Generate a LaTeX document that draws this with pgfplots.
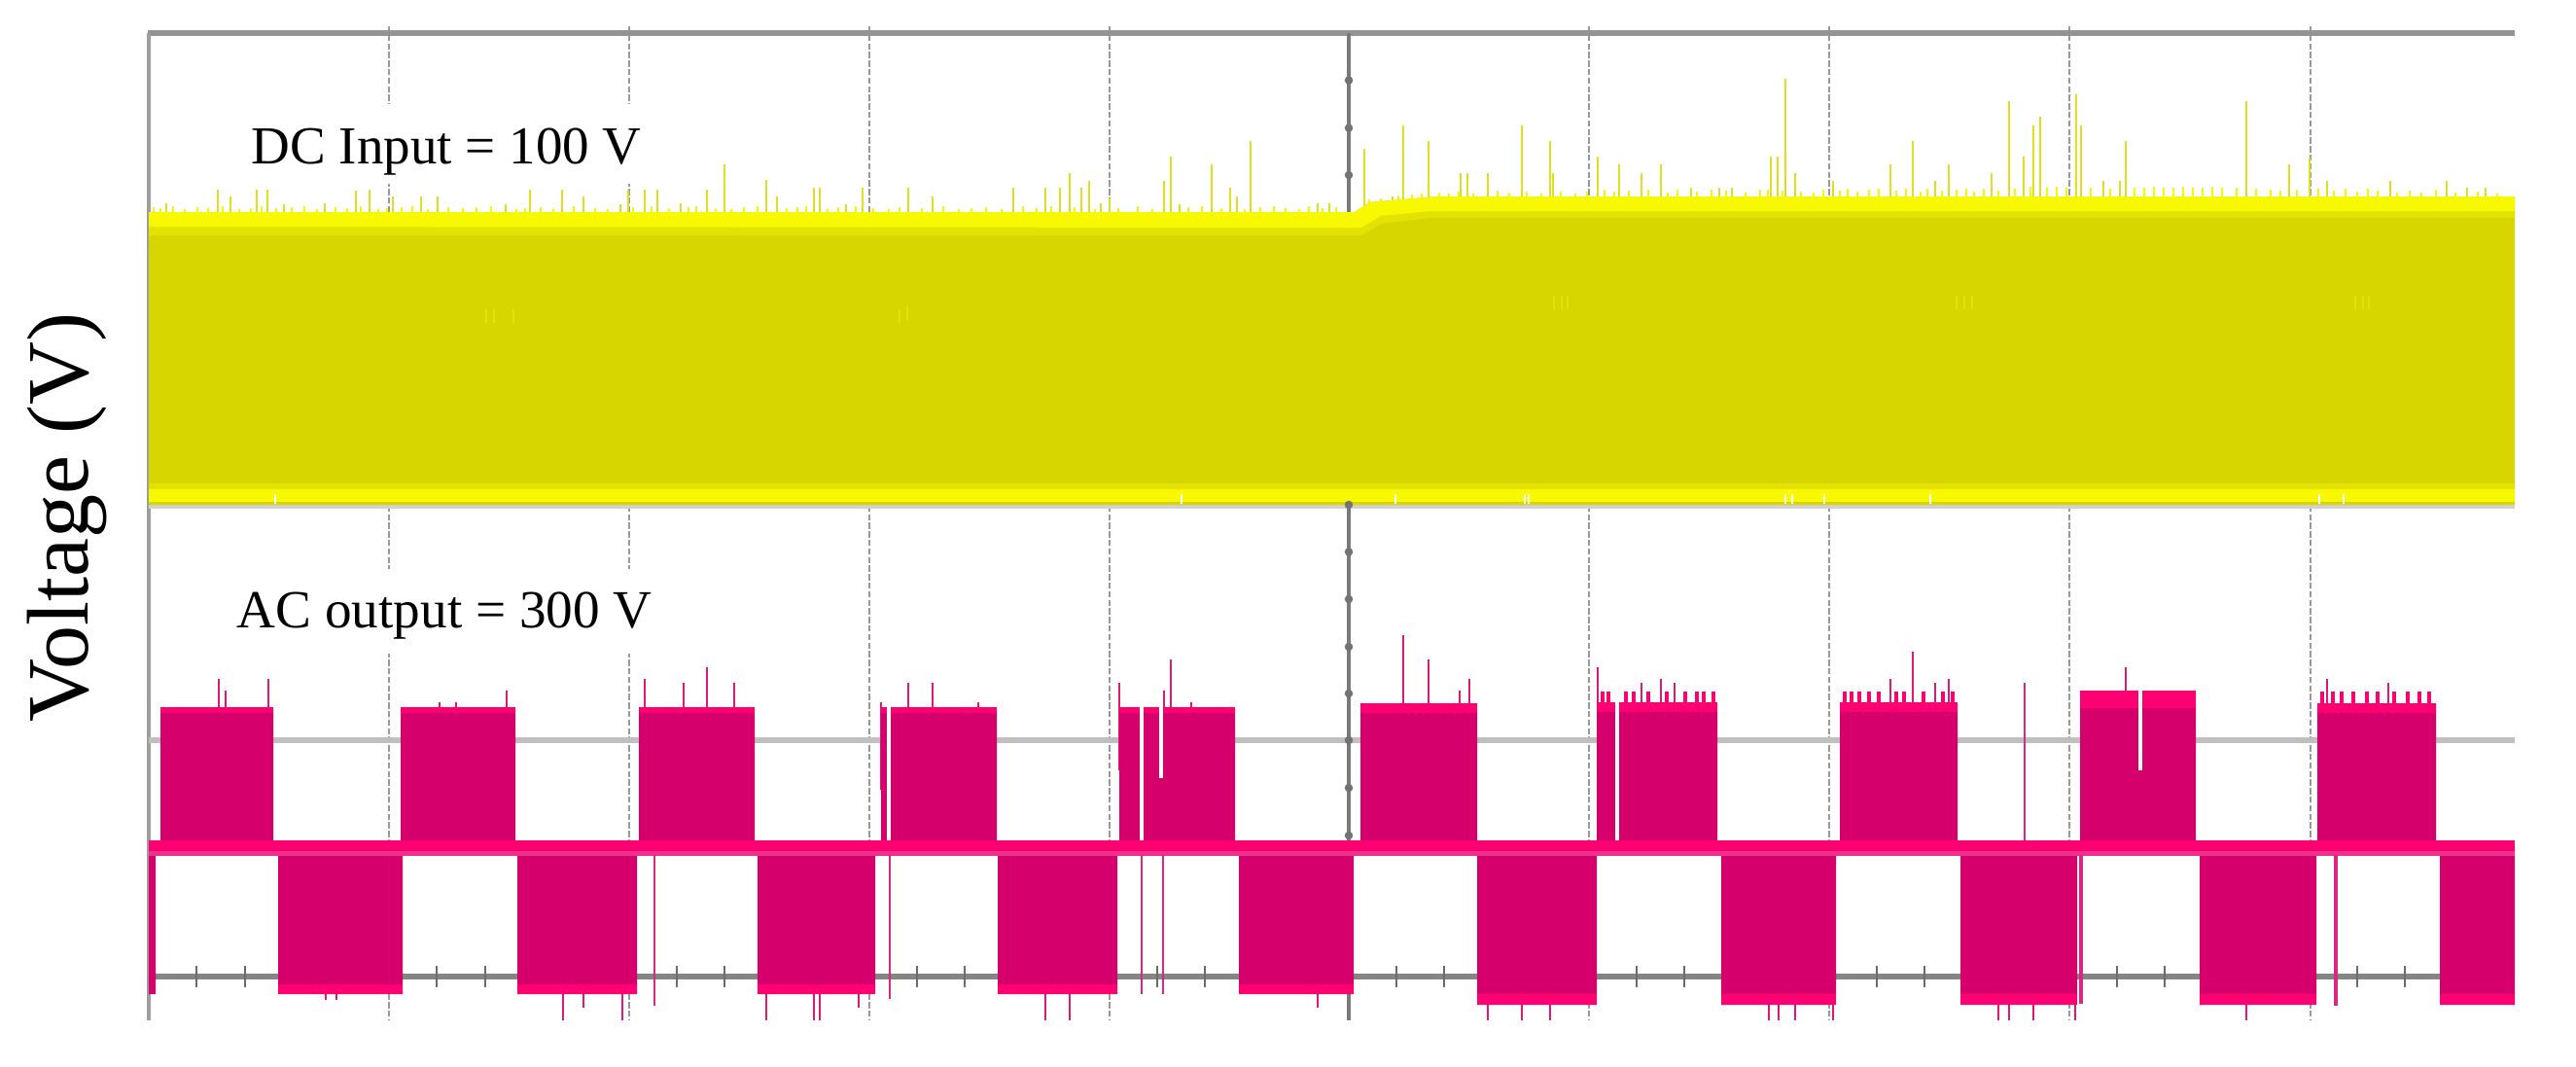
\documentclass[border=0pt]{standalone}
\usepackage{fontspec}
\setmainfont{Liberation Serif}
\usepackage{pgfplots}
\pgfplotsset{compat=1.18}
\definecolor{yelmain}{HTML}{D8D600}
\definecolor{yelbright}{HTML}{F8F800}
\definecolor{yelmid}{HTML}{E4E200}
\definecolor{yelspike}{HTML}{E2DE20}
\definecolor{pinkmain}{HTML}{D6006C}
\definecolor{pinkbright}{HTML}{FF0072}
\definecolor{pinklight}{HTML}{F0308E}
\pgfplotsset{
  ysp/.style={draw=none,mark=none,forget plot,error bars/.cd,y dir=plus,y fixed=#1,error mark=none},
  ysn/.style={draw=none,mark=none,forget plot,error bars/.cd,y dir=minus,y fixed=#1,error mark=none},
  tip/.style={forget plot,color=pinkbright,line width=#1,line cap=butt,unbounded coords=jump},
}
\begin{document}
\begin{tikzpicture}
\useasboundingbox (0,0) rectangle (662.25pt,274pt);
\begin{axis}[
  at={(37pt,11.875pt)},anchor=south west,scale only axis,
  width=609.5pt,height=255.375pt,
  xmin=148,xmax=2586,ymin=27,ymax=1048.5,y dir=reverse,
  axis line style={draw=none},tick style={draw=none},
  xtick={400,647,893.5,1141,1633.5,1881,2128,2376},ytick=\empty,
  xticklabels={},
  xmajorgrids,
  major grid style={color=black!40,line width=0.5pt,dash pattern=on 1.6pt off 0.6pt},
]
% frame and graticule
\addplot[forget plot,color=black!42,line width=1.3pt] coordinates {(152,34)(2586,34)};
\addplot[forget plot,color=black!38,line width=0.8pt] coordinates {(153,34)(153,1048.5)};
\addplot[forget plot,color=black!52,line width=0.9pt] coordinates {(1387,34)(1387,1048.5)};
\addplot[forget plot,color=black!25,line width=1.7pt] coordinates {(153,761)(2586,761)};
\addplot[forget plot,color=black!48,line width=1.6pt] coordinates {(160,1004)(2586,1004)};
\addplot[forget plot,color=blue!10!black!18,line width=1pt] coordinates {(153,521)(2586,521)};
\addplot[forget plot,only marks,mark=*,mark size=0.85pt,color=black!55] coordinates {
(1387,82.5)(1387,131.6)(1387,180)(1387,519)(1387,567.4)(1387,616)(1387,665)(1387,713)(1387,761)(1387,810)(1387,859)};
\addplot[draw=none,mark=none,forget plot,error bars/.cd,y dir=both,y fixed=11,error mark=none,
  error bar style={color=black!58,line width=0.5pt}] coordinates {
(202,1004)(252,1004)(301,1004)(351,1004)(400,1004)(449,1004)(499,1004)(548,1004)(597,1004)(647,1004)
(696,1004)(745,1004)(795,1004)(844,1004)(893,1004)(943,1004)(992,1004)(1042,1004)(1091,1004)(1141,1004)
(1190,1004)(1239,1004)(1289,1004)(1338,1004)(1387,1004)(1436,1004)(1485,1004)(1535,1004)(1584,1004)(1634,1004)
(1683,1004)(1732,1004)(1782,1004)(1831,1004)(1881,1004)(1930,1004)(1979,1004)(2029,1004)(2078,1004)(2128,1004)
(2177,1004)(2226,1004)(2276,1004)(2325,1004)(2376,1004)(2424,1004)(2473,1004)(2523,1004)(2572,1004)};
% text boxes interrupt the graticule
\fill[white] (axis cs:245,107) rectangle (axis cs:668,189);
\fill[white] (axis cs:235,585) rectangle (axis cs:675,672);
% yellow spikes
\addplot[ysp=130,/pgfplots/error bars/error bar style={color=yelspike,line width=0.62pt}] coordinates {
(171,209)(224,195)(237,202)(264,195)(275,195)(292,210)(334,209)(366,196)(380,195)(404,202)(433,202)(450,202)
(520,210)(545,195)(578,195)(600,202)(638,210)(646,195)(663,195)(676,195)(700,209)(727,195)(745,169)(788,185)
(799,202)(837,193)(843,193)(870,210)(887,193)(934,193)(959,202)(1042,193)(1075,193)(1090,193)(1100,178)
(1112,193)(1120,186)(1132,209)(1141,204)(1197,186)(1204,161)(1213,210)(1246,169)(1265,193)(1272,202)(1286,145)
(1355,209)(1367,209)(1403,153)(1432,202)(1443,129)(1469,145)(1502,178)(1509,178)(1530,178)(1565,129)(1594,145)
(1597,178)(1643,161)(1665,169)(1688,178)(1708,169)(1739,193)(1768,193)(1781,193)(1821,161)(1828,161)(1836,81)
(1846,178)(1885,186)(1944,169)(1967,145)(1990,186)(2004,169)(2048,178)(2066,104)(2081,161)(2091,129)(2098,120)
(2135,97)(2140,129)(2163,186)(2180,186)(2186,145)(2310,104)(2354,169)(2375,162)(2393,186)(2458,186)(2516,186)
(2537,193)(2556,193)};
% small fuzz along the top of the band
\addplot[ysp=40,/pgfplots/error bars/error bar style={color=yelbright,line width=0.7pt}] coordinates {
(158,213)(165,214)(178,212)(190,215)(203,213)(214,214)(229,212)(246,215)(258,214)(269,212)(284,214)(300,213)
(313,212)(326,215)(345,213)(357,214)(371,212)(389,215)(398,214)(413,213)(424,212)(440,215)(461,213)(476,214)
(490,213)(505,212)(531,215)(540,214)(556,213)(569,215)(590,212)(612,214)(625,215)(651,213)(670,212)(688,214)
(708,213)(716,212)(736,214)(752,215)(765,213)(779,212)(809,214)(820,213)(829,212)(851,215)(862,213)(880,212)
(898,214)(914,215)(925,213)(948,214)(970,212)(986,215)(999,214)(1014,213)(1030,215)(1052,212)(1066,214)(1081,212)
(1105,213)(1126,215)(1150,214)(1170,212)(1185,215)(1222,213)(1236,212)(1256,214)(1280,215)(1296,213)(1310,212)
(1322,214)(1336,215)(1346,212)(1360,214)(1374,213)
(1408,205)(1420,204)(1438,201)(1452,200)(1462,199)
(1480,198)(1490,199)(1500,197)(1515,199)(1540,196)(1552,198)(1570,197)(1585,199)(1605,197)(1620,199)(1632,197)
(1650,195)(1660,197)(1675,196)(1695,195)(1715,198)(1725,195)(1745,197)(1760,195)(1775,196)(1795,198)(1810,195)
(1818,195)(1833,196)(1852,197)(1865,198)(1875,195)(1892,196)(1900,194)(1910,197)(1922,195)(1932,194)(1950,196)
(1960,194)(1975,197)(1982,194)(1997,196)(2012,195)(2022,194)(2030,197)(2040,194)(2055,196)(2072,194)(2088,192)
(2105,193)(2115,192)(2125,193)(2150,193)(2170,194)(2195,193)(2205,193)(2215,192)(2225,193)(2235,193)(2245,192)
(2255,193)(2265,193)(2275,192)(2285,193)(2300,193)(2320,194)(2335,195)(2345,196)(2362,195)(2384,194)(2400,196)
(2412,194)(2424,197)(2435,194)(2445,196)(2465,198)(2478,196)(2490,198)(2505,195)(2525,198)(2548,197)(2568,199)};
% yellow band
\addplot[forget plot,draw=none,fill=yelmain] coordinates {
(153,218)(1393,218)(1408,208)(1477,202)(2586,202)(2586,519)(153,519)} -- cycle;
\addplot[forget plot,draw=none,fill=yelmid] coordinates {
(153,232)(1400,232)(1420,220)(1470,215)(2586,215)(2586,224)(1470,224)(1420,230)(1400,242)(153,242)} -- cycle;
\addplot[forget plot,draw=none,fill=yelbright] coordinates {
(153,218)(1393,218)(1408,208)(1477,202)(2586,202)(2586,217)(1470,217)(1420,222)(1400,234)(153,233)} -- cycle;
\addplot[forget plot,draw=none,fill=yelmid] coordinates {
(153,497)(2586,497)(2586,505)(153,505)} -- cycle;
\addplot[forget plot,draw=none,fill=yelbright] coordinates {
(153,503)(2586,503)(2586,516)(153,516)} -- cycle;
% lighter flecks in the band
\addplot[draw=none,mark=none,forget plot,error bars/.cd,y dir=both,y fixed=7,error mark=none,
  error bar style={color=yelbright!35!yelmain,line width=0.7pt}] coordinates {
(500,325)(508,325)(528,325)(925,325)(933,322)(1598,311)(1606,311)(1612,311)(2012,311)(2020,311)(2028,311)(2422,311)(2430,311)(2436,311)};
\addplot[draw=none,mark=none,forget plot,error bars/.cd,y dir=both,y fixed=5,error mark=none,
  error bar style={color=white,line width=0.6pt}] coordinates {
(283,513)(1215,513)(1435,513)(1568,513)(1572,513)(1836,513)(1843,513)(1876,513)(1985,513)(2385,513)(2410,513)};
% pink spikes
\addplot[ysp=90,/pgfplots/error bars/error bar style={color=pinkmain!90!white,line width=0.62pt}] coordinates {
(225,698)(232,710)(276,698)(452,722)(469,722)(521,710)(663,698)(703,702)(727,686)(755,702)(934,702)(959,702)(1006,722)
(906,722)(1151,702)(1197,710)(1204,678)(1225,722)(1443,653)(1469,678)(1501,710)(1511,698)(1643,686)(1688,702)(1708,698)
(1722,702)(1944,698)(1967,670)(1990,702)(2004,698)(2186,686)(2393,698)(2456,702)};
\addplot[ysp=25,/pgfplots/error bars/error bar style={color=pinkbright,line width=1pt}] coordinates {
(1648,711)(1654,711)(1672,711)(1680,711)(1695,711)(1714,711)(1733,711)(1745,711)(1752,711)(1762,711)
(1897,711)(1904,711)(1912,711)(1922,711)(1932,711)(1950,711)(1958,711)(1978,711)(1998,711)(2008,711)
(2388,711)(2399,711)(2408,711)(2420,711)(2434,711)(2445,711)(2462,711)(2476,711)(2488,711)(2498,711)};
\addplot[ysn=40,/pgfplots/error bars/error bar style={color=pinkmain!90!white,line width=0.62pt}] coordinates {
(335,1028)(346,1028)(579,1049)(600,1036)(640,1049)(788,1049)(837,1049)(843,1049)(883,1036)(1075,1049)(1100,1049)
(1355,1036)(1530,1049)(1565,1049)(1594,1049)(1819,1049)(1829,1049)(1846,1049)(1885,1049)(2055,1049)(2066,1049)(2091,1049)(2134,1049)(2310,1049)};
% square wave blocks
\addplot[forget plot,draw=none,fill=pinkmain] coordinates {
(165,870)(165,728)(281,728)(281,870)(412,870)(412,728)(530,728)(530,870)(657,870)(657,728)(776,728)(776,870)
(906,870)(906,728)(1025,728)(1025,870)(1151,870)(1151,728)(1270,728)(1270,870)(1399,870)(1399,723)(1519,723)(1519,870)
(1642,870)(1642,724)(1766,724)(1766,870)(1892,870)(1892,724)(2013,724)(2013,870)(2139,870)(2139,712)(2258,712)(2258,870)
(2383,870)(2383,724)(2505,724)(2505,870)} -- cycle;
\addplot[forget plot,draw=none,fill=pinkmain] coordinates {
(153,870)(153,1022)(160,1022)(160,870)
(286,870)(286,1022)(414,1022)(414,870)(532,870)(532,1022)(655,1022)(655,870)(779,870)(779,1022)(900,1022)(900,870)
(1026,870)(1026,1022)(1149,1022)(1149,870)(1274,870)(1274,1022)(1392,1022)(1392,870)
(1519,870)(1519,1033)(1642,1033)(1642,870)(1770,870)(1770,1033)(1888,1033)(1888,870)(2016,870)(2016,1033)(2136,1033)(2136,870)
(2262,870)(2262,1033)(2382,1033)(2382,870)(2509,870)(2509,1033)(2586,1033)(2586,870)} -- cycle;
% bright tips
\addplot[tip=1.5pt] coordinates {
(165,730)(281,730)(nan,nan)(412,730)(530,730)(nan,nan)(657,730)(776,730)(nan,nan)(906,730)(1025,730)(nan,nan)(1151,730)(1270,730)};
\addplot[tip=2.5pt] coordinates {
(1399,728)(1519,728)(nan,nan)(1642,727)(1766,727)(nan,nan)(1892,727)(2013,727)(nan,nan)(2383,728)(2505,728)};
\addplot[tip=4.5pt] coordinates {(2139,719)(2258,719)};
\addplot[tip=2.5pt] coordinates {
(286,1017)(414,1017)(nan,nan)(532,1017)(655,1017)(nan,nan)(779,1017)(900,1017)(nan,nan)(1026,1017)(1149,1017)(nan,nan)(1274,1017)(1392,1017)};
\addplot[tip=2.75pt] coordinates {
(1519,1027.5)(1642,1027.5)(nan,nan)(1770,1027.5)(1888,1027.5)(nan,nan)(2016,1027.5)(2136,1027.5)(nan,nan)(2262,1027.5)(2382,1027.5)(nan,nan)(2509,1027.5)(2586,1027.5)};
% zero band
\addplot[forget plot,draw=none,fill=pinklight] coordinates {(153,872)(2586,872)(2586,880)(153,880)} -- cycle;
\addplot[forget plot,draw=none,fill=pinkbright] coordinates {(153,864)(2586,864)(2586,875)(153,875)} -- cycle;
% long single glitches through the white
\addplot[forget plot,color=pinkmain!85!white,line width=0.7pt] coordinates {(673,879)(673,1034)};
\addplot[forget plot,color=pinkmain!85!white,line width=0.7pt] coordinates {(915,879)(915,1027)};
\addplot[forget plot,color=pinkmain!85!white,line width=0.7pt] coordinates {(1174,879)(1174,1022)};
\addplot[forget plot,color=pinkmain!85!white,line width=0.7pt] coordinates {(1196,879)(1196,1022)};
\addplot[forget plot,color=pinkmain!85!white,line width=1pt] coordinates {(2402,879)(2402,1034)};
\addplot[forget plot,color=pinkmain!85!white,line width=1.2pt] coordinates {(2140,879)(2140,1032)};
\addplot[forget plot,color=pinkmain!85!white,line width=0.7pt] coordinates {(2082,702)(2082,864)};
% white slits in the blocks
\addplot[forget plot,color=white,line width=1.2pt] coordinates {(914,725)(914,864)};
\addplot[forget plot,color=white,line width=0.9pt] coordinates {(1174,725)(1174,864)};
\addplot[forget plot,color=white,line width=0.9pt] coordinates {(1194,725)(1194,800)};
\addplot[forget plot,color=white,line width=0.9pt] coordinates {(1663,708)(1663,864)};
\addplot[forget plot,color=white,line width=0.9pt] coordinates {(2201,708)(2201,792)};
\node[anchor=base west,inner sep=0pt,font=\fontsize{13.75pt}{16pt}\selectfont] at (axis cs:258,168) {DC Input = 100 V};
\node[anchor=base west,inner sep=0pt,font=\fontsize{13.8pt}{16pt}\selectfont] at (axis cs:243,645) {AC output = 300 V};
\end{axis}
\node[rotate=90,anchor=base,inner sep=0pt,font=\fontsize{22.5pt}{26pt}\selectfont] at (22.75pt,141pt) {Voltage (V)};
\end{tikzpicture}
\end{document}
